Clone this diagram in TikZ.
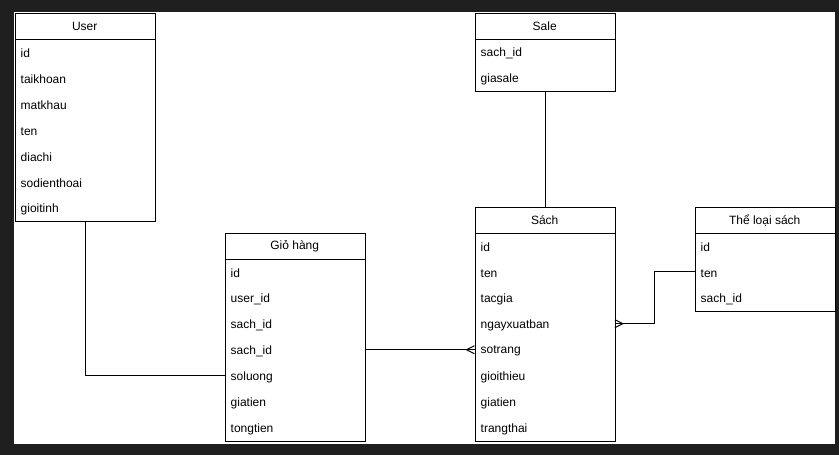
\documentclass[tikz,border=0pt]{standalone}
\usepackage{fontspec}
\setmainfont{Liberation Sans}
\definecolor{pagebg}{HTML}{1F1F1F}

% one entity table: name, north-west corner, title, number of rows, rows
\newcommand{\erentity}[5]{%
  \node[entity, minimum height={(#4+1)*26pt}] (#1) at #2 {};
  \node[enttitle] (#1-t) at (#1.north west) {#3};
  \draw[erline] (#1-t.south west) -- (#1-t.south east);
  \foreach \fld [count=\i] in {#5}
    \node[entrow] (#1-\i) at ([yshift={-26*\i*1pt}]#1.north west) {\fld};
}

\begin{document}
\begin{tikzpicture}[x=1pt, y=-1pt,
  erline/.style={draw=black, line width=1pt},
  entity/.style={erline, fill=white, anchor=north west, minimum width=140pt, inner sep=0pt},
  enttitle/.style={anchor=north west, minimum width=140pt, minimum height=26pt, inner sep=0pt,
    yshift=-0.5pt, font=\fontsize{12}{14}\selectfont},
  entrow/.style={anchor=north west, minimum width=140pt, minimum height=26pt, inner ysep=0pt,
    inner xsep=6pt, text width=128pt, align=left, yshift=-1.5pt, font=\fontsize{12}{14}\selectfont},
  conn/.style={erline},
]
% page and canvas
\fill[pagebg] (0,0) rectangle (839,455);
\fill[white] (14,12) rectangle (835,444);
\useasboundingbox (0,0) rectangle (839,455);

% entities
\erentity{user}{(14.5,12.5)}{User}{7}{id,taikhoan,matkhau,ten,diachi,sodienthoai,gioitinh}
\erentity{sale}{(474.5,12.5)}{Sale}{2}{sach\_id,giasale}
\erentity{sach}{(474.5,206.5)}{Sách}{8}{id,ten,tacgia,ngayxuatban,sotrang,gioithieu,giatien,trangthai}
\erentity{theloai}{(694.5,206.5)}{Thể loại sách}{3}{id,ten,sach\_id}
\erentity{gio}{(224.5,232.5)}{Giỏ hàng}{7}{id,user\_id,sach\_id,sach\_id,soluong,giatien,tongtien}

% relationships (row nodes are shifted down 1.5pt, so connectors use the row edges
% at the row's true centre line)
\coordinate (userfk) at ([yshift=1.5pt]gio-5.west);
\coordinate (giofk) at ([yshift=1.5pt]gio-4.east);
\coordinate (sachin) at ([yshift=1.5pt]sach-5.west);
\coordinate (sachout) at ([yshift=1.5pt]sach-4.east);
\coordinate (thefk) at ([yshift=1.5pt]theloai-2.west);
\draw[conn] (user.south) |- (userfk);
\draw[conn] (sale.south) -- (sach.north);
\draw[conn] (giofk) -- (sachin);
\draw[conn] ([xshift=-8pt]sachin) -- ([yshift=4pt]sachin);
\draw[conn] ([xshift=-8pt]sachin) -- ([yshift=-4pt]sachin);
\coordinate (bend) at ([xshift=-40pt]thefk);
\draw[conn] (thefk) -- (bend) |- (sachout);
\draw[conn] ([xshift=8pt]sachout) -- ([yshift=4pt]sachout);
\draw[conn] ([xshift=8pt]sachout) -- ([yshift=-4pt]sachout);
\end{tikzpicture}
\end{document}
